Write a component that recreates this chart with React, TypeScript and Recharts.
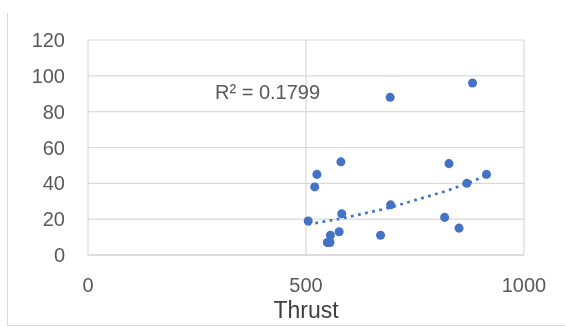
import { ScatterChart, Scatter, XAxis, YAxis, CartesianGrid } from 'recharts'

// thrust vs. measured value, one entry per sample
const thrust = [882, 693, 580, 525, 520, 828, 914, 869, 694, 582, 505, 818, 851, 576, 556, 671, 549, 555]
const values = [96, 88, 52, 45, 38, 51, 45, 40, 28, 23, 19, 21, 15, 13, 11, 11, 7, 7]

const xTicks = [0, 500, 1000]
const yTicks = [0, 20, 40, 60, 80, 100, 120]
const rSquaredLabel = 'R² = 0.1799'
const xTitle = 'Thrust'

const points = thrust.map((x, i) => ({ x, y: values[i] }))

// exponential trendline y = a * e^(b x), least squares on ln(y)
const n = points.length
const meanX = points.reduce((s, p) => s + p.x, 0) / n
const meanLn = points.reduce((s, p) => s + Math.log(p.y), 0) / n
const sxy = points.reduce((s, p) => s + (p.x - meanX) * (Math.log(p.y) - meanLn), 0)
const sxx = points.reduce((s, p) => s + (p.x - meanX) ** 2, 0)
const b = sxy / sxx
const lnA = meanLn - b * meanX
const trend = [...thrust]
  .sort((p, q) => p - q)
  .map((x) => ({ x, y: Math.exp(lnA + b * x) }))

const FONT = '"Liberation Sans", Arial, sans-serif'
const TEXT = '#595959'
const BLUE = '#4472C4'

const XTick = ({ x, y, payload }: any) => (
  <g transform={`translate(${x},${y + 28})`}>
    <text x={0} y={0} dy="0.355em" textAnchor="middle" fill={TEXT} fontSize={20} fontFamily={FONT}>
      {String(payload.value)}
    </text>
  </g>
)

export default function App() {
  return (
    // chart area frame: only its left and bottom edges fall inside the view
    <div
      style={{
        position: 'fixed',
        left: 7,
        top: 13,
        width: 558,
        height: 313,
        boxSizing: 'border-box',
        borderLeft: '1px solid #d9d9d9',
        borderBottom: '1px solid #d9d9d9',
      }}
    >
      <div style={{ marginLeft: -8, marginTop: -13 }}>
        <ScatterChart width={565} height={327} margin={{ top: 40, right: 41, bottom: 0, left: 0 }}>
          <CartesianGrid stroke="#d9d9d9" strokeWidth={1.2} />
          <XAxis
            type="number"
            dataKey="x"
            domain={[0, 1000]}
            ticks={xTicks}
            interval={0}
            height={72}
            tickSize={0}
            axisLine={{ stroke: '#d0d0d0', strokeWidth: 1.2 }}
            tick={<XTick />}
          />
          <YAxis
            type="number"
            dataKey="y"
            domain={[0, 120]}
            ticks={yTicks}
            interval={0}
            width={88}
            tickSize={0}
            tickMargin={23}
            axisLine={false}
            tickLine={false}
            tick={{ fill: TEXT, fontSize: 20, fontFamily: FONT }}
          />
          <Scatter data={points} fill={BLUE} isAnimationActive={false} />
          <Scatter
            data={trend}
            line={{ stroke: BLUE, strokeWidth: 2.75, strokeDasharray: '2.75 4.5' }}
            lineType="joint"
            shape={() => <g />}
            isAnimationActive={false}
          />
          <text x={215} y={92} dy="0.355em" fill={TEXT} fontSize={20} fontFamily={FONT}>
            {rSquaredLabel}
          </text>
          <text x={306} y={318} textAnchor="middle" fill="#404040" fontSize={23} fontFamily={FONT}>
            {xTitle}
          </text>
        </ScatterChart>
      </div>
    </div>
  )
}
